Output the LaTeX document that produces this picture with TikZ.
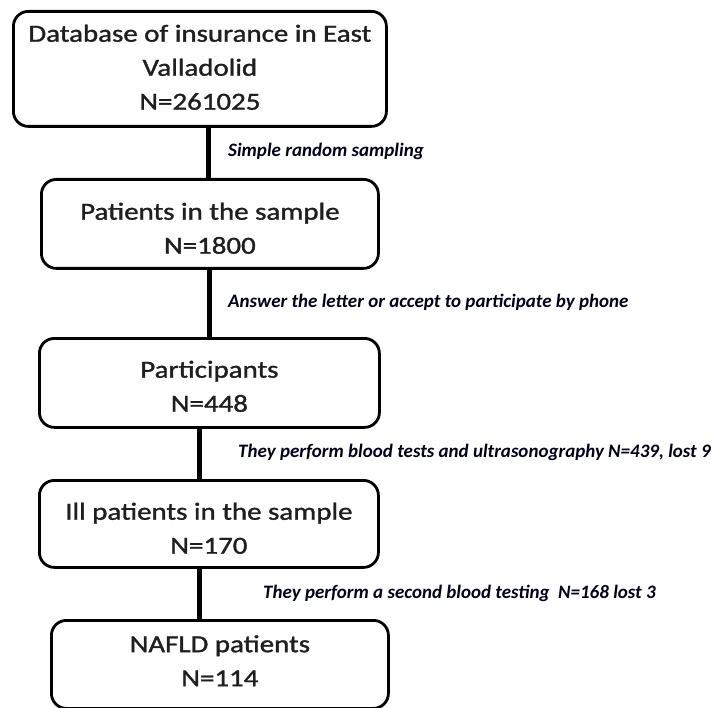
\documentclass[tikz,border=0pt]{standalone}
\usepackage{fontspec}
\usepackage{graphicx}
\setmainfont{Carlito}
\newfontfamily\boxfont[FakeBold=1.2]{Carlito}
\newcommand{\boxlines}[2]{\raisebox{#1}[\height][\depth]{\scalebox{1.18}[1]{\boxfont\fontsize{24.5}{34}\selectfont\begin{tabular}{@{}c@{}}#2\end{tabular}}}}
\begin{document}
\begin{tikzpicture}[x=1pt,y=-1pt,
  flowbox/.style={draw=black, line width=2.8pt, rounded corners=15pt, inner sep=0pt, text=black!88, anchor=north west},
  conn/.style={line width=5pt},
  steplabel/.style={anchor=west, inner sep=0pt, font=\fontsize{19}{22}\selectfont\bfseries\itshape, text=black!90!blue}]
\useasboundingbox (0,0) rectangle (714,708);
% boxes
\node[flowbox, minimum width=373pt, minimum height=115pt] (b1) at (12,10) {\boxlines{0pt}{Database of insurance in East\\Valladolid\\N=261025}};
\node[flowbox, minimum width=337pt, minimum height=89pt] (b2) at (40,178) {\boxlines{-6pt}{Patients in the sample\\N=1800}};
\node[flowbox, minimum width=340pt, minimum height=89pt] (b3) at (38,337) {\boxlines{-5pt}{Participants\\N=448}};
\node[flowbox, minimum width=339pt, minimum height=87pt] (b4) at (38,479) {\boxlines{-6pt}{Ill patients in the sample\\N=170}};
\node[flowbox, minimum width=337pt, minimum height=88pt] (b5) at (50,619) {\boxlines{2pt}{NAFLD patients\\N=114}};
% connectors
\coordinate (c1) at (208,0);
\coordinate (c2) at (209,0);
\coordinate (c3) at (199,0);
\draw[conn] (b1.south -| c1) -- (b2.north -| c1);
\draw[conn] (b2.south -| c2) -- (b3.north -| c2);
\draw[conn] (b3.south -| c3) -- (b4.north -| c3);
\draw[conn] (b4.south -| c3) -- (b5.north -| c3);
% labels
\node[steplabel] (l1) at (228,151) {Simple random sampling};
\node[steplabel] (l2) at (228,302) {Answer the letter or accept to participate by phone};
\node[steplabel] (l3) at (238,452) {They perform blood tests and ultrasonography N=439, lost 9};
\node[steplabel] (l4) at (263,593) {They perform a second blood testing\ \ N=168 lost 3};
\end{tikzpicture}
\end{document}
